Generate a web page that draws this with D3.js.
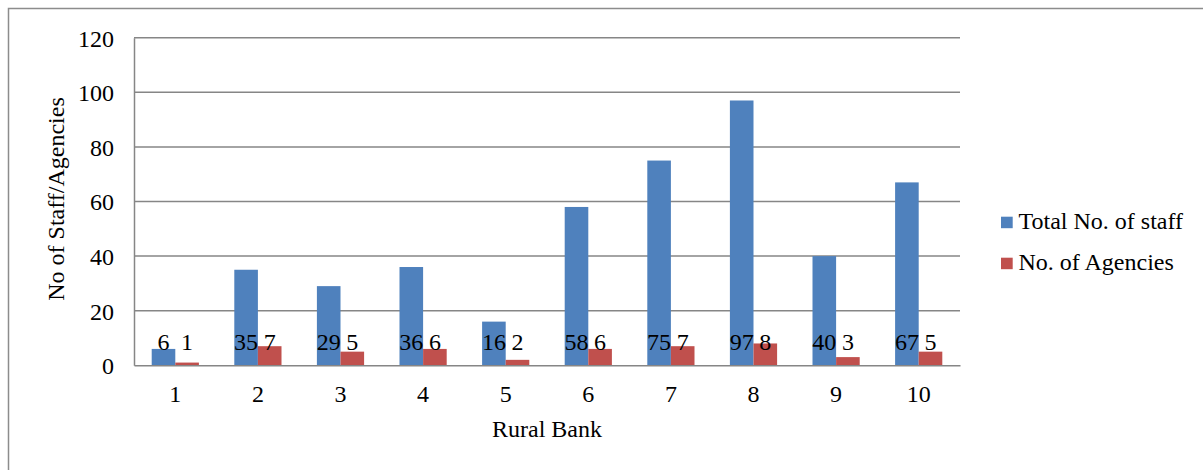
<!DOCTYPE html>
<html>
<head>
<meta charset="utf-8">
<script src="https://cdn.jsdelivr.net/npm/d3@7"></script>
<style>
  html, body { margin: 0; padding: 0; background: #fff; }
  svg { display: block; }
  text { font-family: "Liberation Serif", "Times New Roman", serif; fill: #000; }
</style>
</head>
<body>
<svg id="chart" width="1203" height="470"></svg>
<script>
// Rural banks with staff and agency counts
const banks = ["1", "2", "3", "4", "5", "6", "7", "8", "9", "10"];
const staff = [6, 35, 29, 36, 16, 58, 75, 97, 40, 67];
const agencies = [1, 7, 5, 6, 2, 6, 7, 8, 3, 5];
const seriesNames = ["Total No. of staff", "No. of Agencies"];
const seriesColors = ["#4F81BD", "#C0504D"];
const yTicks = [0, 20, 40, 60, 80, 100, 120];

const FONT = '"Liberation Serif", "Times New Roman", serif';
const FS = "24px";

const svg = d3.select("#chart");
const W = 1203, H = 470;

// Outer chart frame (extends past the right and bottom edges)
svg.append("rect")
  .attr("x", 8.5).attr("y", 8.5)
  .attr("width", W + 20).attr("height", H + 20)
  .attr("fill", "#fff").attr("stroke", "#8c8c8c").attr("stroke-width", 1.5);

const plot = { left: 134, right: 960, top: 37.7, bottom: 365.3 };

const x = d3.scaleBand().domain(banks).range([plot.left, plot.right]).paddingInner(0).paddingOuter(0);
const y = d3.scaleLinear().domain([0, 120]).range([plot.bottom, plot.top]);

// Clustered bars: gap width 150% of one bar
const barW = x.bandwidth() / 3.5;
const x1 = d3.scaleBand().domain([0, 1])
  .range([x.bandwidth() / 2 - barW, x.bandwidth() / 2 + barW]);

// Gridlines
svg.append("g")
  .selectAll("line")
  .data(yTicks.filter(d => d > 0))
  .join("line")
  .attr("x1", plot.left).attr("x2", plot.right)
  .attr("y1", d => y(d)).attr("y2", d => y(d))
  .attr("stroke", "#868686").attr("stroke-width", 1.5);

// Y axis
const yAxis = d3.axisLeft(y).tickValues(yTicks).tickSize(0).tickPadding(20);
const gy = svg.append("g").attr("transform", `translate(${plot.left},0)`).call(yAxis);
gy.select(".domain").attr("stroke", "#868686").attr("stroke-width", 1.5);
gy.selectAll("text")
  .style("font-size", FS).style("font-family", FONT)
  .attr("dy", null).attr("y", 8.3);

// Bars
const seriesData = [staff, agencies];
seriesData.forEach((vals, si) => {
  svg.append("g")
    .selectAll("rect")
    .data(vals)
    .join("rect")
    .attr("x", (d, i) => x(banks[i]) + x1(si))
    .attr("y", d => y(d))
    .attr("width", x1.bandwidth())
    .attr("height", d => y(0) - y(d))
    .attr("fill", seriesColors[si]);
});

// X axis
const xAxis = d3.axisBottom(x).tickSize(0).tickPadding(0);
const gx = svg.append("g").attr("transform", `translate(0,${plot.bottom})`).call(xAxis);
gx.select(".domain").attr("stroke", "#868686").attr("stroke-width", 1.5);
gx.selectAll("text")
  .style("font-size", FS).style("font-family", FONT)
  .attr("dy", null).attr("y", 36.3);

// Data labels at the inside base of each bar
seriesData.forEach((vals, si) => {
  svg.append("g")
    .selectAll("text")
    .data(vals)
    .join("text")
    .attr("x", (d, i) => x(banks[i]) + x1(si) + x1.bandwidth() / 2)
    .attr("y", y(0) - 15.8)
    .attr("text-anchor", "middle")
    .style("font-size", FS)
    .text(d => d);
});

// Axis titles
svg.append("text")
  .attr("x", (plot.left + plot.right) / 2).attr("y", 436.7)
  .attr("text-anchor", "middle").style("font-size", FS)
  .text("Rural Bank");

svg.append("text")
  .attr("transform", `translate(63.5,199) rotate(-90)`)
  .attr("text-anchor", "middle").style("font-size", FS)
  .text("No of Staff/Agencies");

// Legend
const legend = svg.append("g").attr("transform", "translate(1001,0)");
seriesNames.forEach((name, i) => {
  const top = 216.7 + i * 41;
  legend.append("rect")
    .attr("x", 0).attr("y", top).attr("width", 11.7).attr("height", 11.5)
    .attr("fill", seriesColors[i]);
  legend.append("text")
    .attr("x", 17.5).attr("y", top + 12.6)
    .style("font-size", FS)
    .text(name);
});
</script>
</body>
</html>
